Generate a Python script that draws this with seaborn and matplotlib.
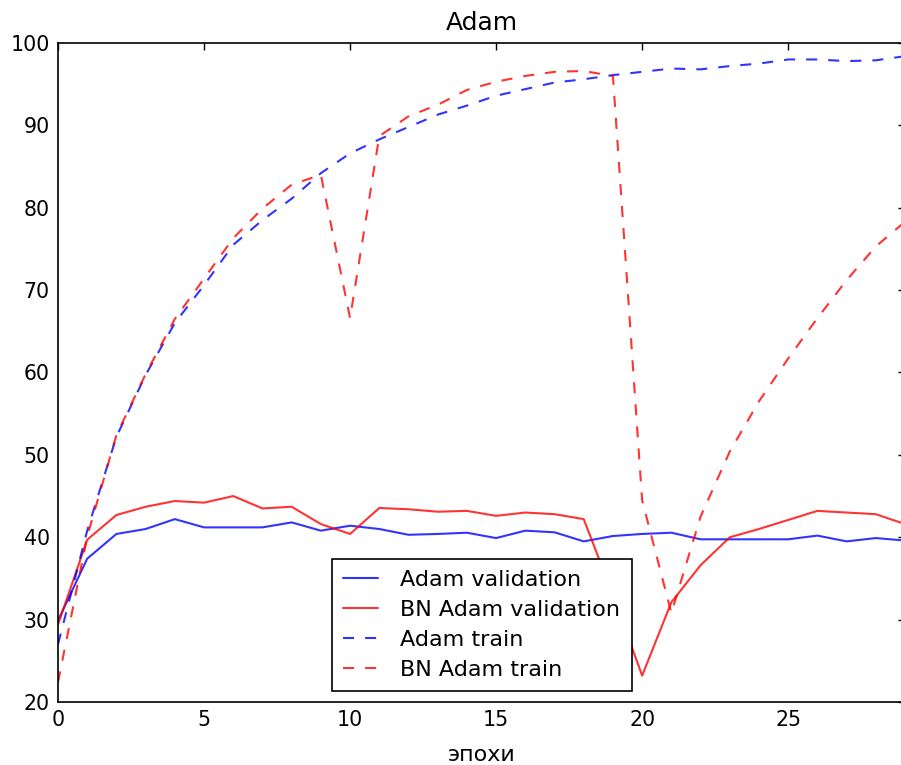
import matplotlib
matplotlib.use("Agg")
import matplotlib.pyplot as plt
import seaborn as sns

# эпохи 0..29
epochs = list(range(30))

adam_val = [29.9, 37.4, 40.4, 41.0, 42.2, 41.2, 41.2, 41.2, 41.8, 40.8,
            41.4, 41.0, 40.3, 40.4, 40.55, 39.9, 40.8, 40.6, 39.5, 40.15,
            40.4, 40.55, 39.75, 39.75, 39.75, 39.75, 40.2, 39.5, 39.9, 39.6]
bn_adam_val = [29.4, 39.7, 42.7, 43.7, 44.4, 44.2, 45.0, 43.5, 43.7, 41.6,
               40.4, 43.55, 43.4, 43.1, 43.2, 42.6, 43.0, 42.8, 42.2, 33.0,
               23.2, 32.1, 36.6, 40.0, 41.0, 42.1, 43.2, 43.0, 42.8, 41.6]
adam_train = [27.0, 40.8, 52.2, 59.7, 66.0, 70.6, 75.5, 78.5, 81.1, 84.2,
              86.6, 88.3, 89.8, 91.3, 92.4, 93.6, 94.4, 95.2, 95.6, 96.1,
              96.5, 96.9, 96.8, 97.2, 97.5, 98.0, 98.0, 97.8, 97.9, 98.4]
bn_adam_train = [22.4, 40.1, 52.4, 59.8, 66.5, 71.4, 76.3, 79.9, 82.8, 84.0,
                 66.6, 88.7, 91.1, 92.5, 94.3, 95.3, 96.0, 96.5, 96.6, 96.0,
                 44.5, 30.8, 42.5, 50.4, 56.5, 61.7, 66.6, 71.2, 75.3, 78.3]

sns.set_style("white", {
    "axes.edgecolor": "black",
    "xtick.direction": "in",
    "ytick.direction": "in",
    "text.color": "black",
    "axes.labelcolor": "black",
    "xtick.color": "black",
    "ytick.color": "black",
})
plt.rcParams["font.family"] = ["DejaVu Sans"]
plt.rcParams["lines.dashed_pattern"] = [5.3, 5.3]
plt.rcParams["xtick.top"] = True
plt.rcParams["ytick.right"] = True

fig = plt.figure(figsize=(9.01, 7.65), dpi=100)
ax = fig.add_axes([58 / 901, 1 - 702 / 765, (905 - 58) / 901, (702 - 43) / 765])

sns.lineplot(x=epochs, y=adam_val, color="b", alpha=0.8, lw=1.5, label="Adam validation", ax=ax)
sns.lineplot(x=epochs, y=bn_adam_val, color="r", alpha=0.8, lw=1.5, label="BN Adam validation", ax=ax)
sns.lineplot(x=epochs, y=adam_train, color="b", alpha=0.8, lw=1.5, ls="--", label="Adam train", ax=ax)
sns.lineplot(x=epochs, y=bn_adam_train, color="r", alpha=0.8, lw=1.5, ls="--", label="BN Adam train", ax=ax)

ax.set_xlim(0, 29)
ax.set_ylim(20, 100)
ax.set_xticks([0, 5, 10, 15, 20, 25])
ax.set_yticks(range(20, 101, 10))
ax.tick_params(axis="both", labelsize=14.8, length=5, width=1, color="black", pad=6)
for s in ax.spines.values():
    s.set_linewidth(1.2)
    s.set_color("black")

ax.set_title("Adam", fontsize=18, pad=9)
ax.set_xlabel("эпохи", fontsize=16, labelpad=10.5)

leg = ax.legend(loc="lower center", fontsize=16, frameon=True, fancybox=False,
                edgecolor="black", handlelength=1.6, handletextpad=1.0,
                labelspacing=0.45, borderpad=0.5)
leg.get_frame().set_linewidth(1.2)
leg.get_frame().set_alpha(1)

fig.savefig("out.png", dpi=100)
